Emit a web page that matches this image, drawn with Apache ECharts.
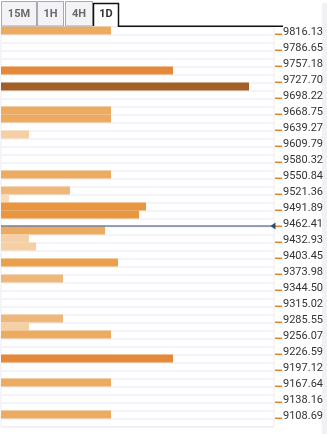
<!DOCTYPE html>
<html>
<head>
<meta charset="utf-8">
<script src="https://cdn.jsdelivr.net/npm/echarts@6/dist/echarts.min.js"></script>
<style>
html,body{margin:0;padding:0;background:#fff;}
#chart{width:327px;height:434px;}
</style>
</head>
<body>
<div id="chart"></div>
<script>
// Price levels shown as tick labels (every other row)
var tickLabels = ['9816.13','9786.65','9757.18','9727.70','9698.22','9668.75','9639.27','9609.79','9580.32','9550.84','9521.36','9491.89','9462.41','9432.93','9403.45','9373.98','9344.50','9315.02','9285.55','9256.07','9226.59','9197.12','9167.64','9138.16','9108.69'];
// Confluence strength per row (50 rows, top to bottom)
var strength = [110,0,0,0,0,172,0,248,0,0,
                110,110,0,28,0,0,0,0,110,0,
                69,8,145,138,0,104,28,35,0,117,
                0,62,0,0,0,0,62,28,110,0,
                0,172,0,0,110,0,0,0,110,0];
var currentPrice = 9456.0;
var tabs = ['15M','1H','4H','1D'];

var priceTop = 9823.50, priceBottom = 9086.58;

var categories = [];
for (var i = 0; i < strength.length; i++) {
  categories.push(i % 2 === 0 ? tickLabels[i / 2] : 'r' + i);
}

function barColor(v) {
  if (v >= 200) return '#A25F26';
  if (v >= 160) return '#E4883A';
  if (v >= 130) return '#E8963F';
  if (v >= 112) return '#EBA04C';
  if (v >= 90) return '#EDAB62';
  if (v >= 50) return '#F0B77B';
  if (v >= 20) return '#F5D0A5';
  return '#F7DBBD';
}

var chart = echarts.init(document.getElementById('chart'), null, {renderer: 'canvas'});

var tabRects = [[1, 35], [37, 26], [65, 27]];
var graphics = [
  {type: 'rect', shape: {x: 322, y: 3, width: 5, height: 431}, style: {fill: '#f1f1f3'}, z: 0}
];
for (var t = 0; t < 3; t++) {
  graphics.push({type: 'rect', shape: {x: tabRects[t][0] + 0.5, y: 1.5, width: tabRects[t][1], height: 24.5},
    style: {fill: '#f2f2f7', stroke: '#a9a9ad', lineWidth: 1}, z: 10});
  graphics.push({type: 'text', x: tabRects[t][0] + 0.5 + tabRects[t][1] / 2, y: 14,
    style: {text: tabs[t], fill: '#6a6a6a', font: 'bold 11px Roboto', align: 'center', verticalAlign: 'middle'}, z: 11});
}
graphics.push({type: 'polyline', shape: {points: [[93.5, 26], [93.5, 3.5], [118.5, 3.5], [118.5, 26.2], [283, 26.2]]},
  style: {stroke: '#111', lineWidth: 1.5, fill: null}, z: 12});
graphics.push({type: 'text', x: 106, y: 14.5,
  style: {text: tabs[3], fill: '#333', font: 'bold 11px Roboto', align: 'center', verticalAlign: 'middle'}, z: 12});

chart.setOption({
  animation: false,
  backgroundColor: '#fff',
  graphic: graphics,
  grid: {left: 1, right: 53, top: 26.5, height: 400, show: true, borderColor: '#ececf2', borderWidth: 1, backgroundColor: 'transparent'},
  xAxis: {type: 'value', min: 0, max: 273, show: false},
  yAxis: [
    {
      type: 'category', inverse: true, position: 'right', data: categories,
      axisLine: {show: false},
      axisTick: {show: false},
      axisLabel: {
        interval: 1, margin: 1, padding: [3, 0, 0, 0],
        formatter: function (v) { return '{t|}{v|' + v + '}'; },
        rich: {
          t: {width: 7, height: 1.5, backgroundColor: '#EE7F24', verticalAlign: 'bottom'},
          v: {color: '#333', fontSize: 11, fontFamily: 'Roboto', lineHeight: 6, padding: [0, 0, 0, 1]}
        }
      },
      splitLine: {show: true, interval: 0, lineStyle: {color: '#f0f0f6', width: 1.5}}
    },
    {type: 'value', min: priceBottom, max: priceTop, show: false}
  ],
  series: [
    {
      type: 'bar', yAxisIndex: 0, barWidth: 8, barCategoryGap: 0, silent: true,
      data: strength.map(function (v) {
        return v > 0 ? {value: v, itemStyle: {color: barColor(v)}} : null;
      })
    },
    {
      type: 'line', yAxisIndex: 1, silent: true, z: 5,
      lineStyle: {color: '#2b4a6e', width: 1.2},
      data: [
        {value: [0, currentPrice], symbol: 'none'},
        {value: [272, currentPrice], symbol: 'triangle', symbolSize: [7, 5], symbolRotate: 90,
          itemStyle: {color: '#2b4a6e'}}
      ],
      showSymbol: true
    }
  ]
});
</script>
</body>
</html>
